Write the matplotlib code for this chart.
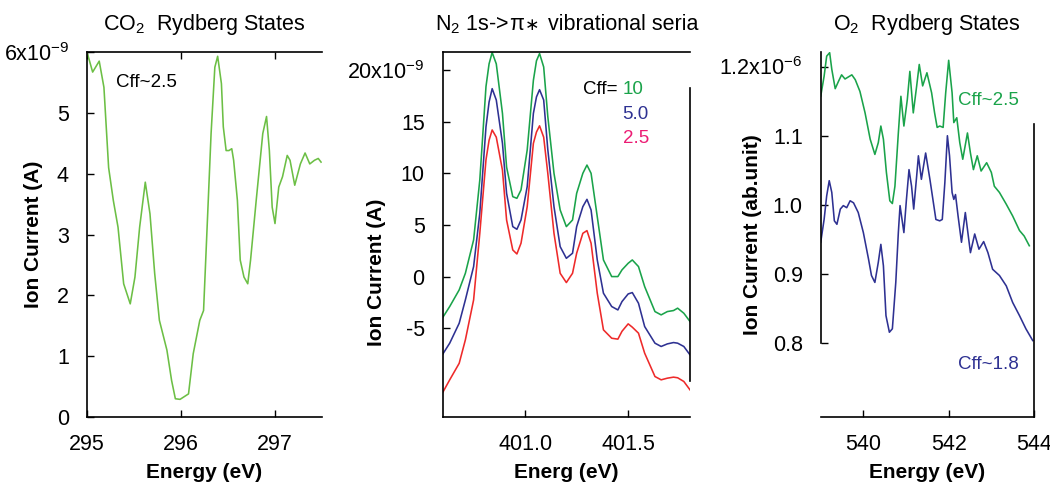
import matplotlib
matplotlib.use("Agg")
import matplotlib.pyplot as plt

plt.rcParams['font.family'] = ['Liberation Sans', 'DejaVu Sans']
plt.rcParams['mathtext.fontset'] = 'custom'
plt.rcParams['mathtext.rm'] = 'Liberation Sans'
plt.rcParams['mathtext.it'] = 'Liberation Sans:italic'
plt.rcParams['mathtext.bf'] = 'Liberation Sans:bold'

# ---------------- data ----------------
co2_energy = [295.0, 295.06, 295.13, 295.18, 295.23, 295.28, 295.33, 295.39, 295.46, 295.51,
              295.56, 295.62, 295.67, 295.72, 295.77, 295.85, 295.90, 295.94, 295.99, 296.04,
              296.08, 296.13, 296.20, 296.24, 296.29, 296.32, 296.36, 296.39, 296.43, 296.45,
              296.48, 296.51, 296.54, 296.56, 296.60, 296.63, 296.67, 296.71, 296.74, 296.80,
              296.87, 296.91, 296.94, 296.97, 297.0, 297.04, 297.08, 297.13, 297.16, 297.21,
              297.27, 297.32, 297.37, 297.42, 297.46, 297.49]
co2_current = [6.0, 5.67, 5.85, 5.42, 4.1, 3.56, 3.12, 2.19, 1.86, 2.3,
               3.12, 3.86, 3.34, 2.36, 1.59, 1.10, 0.60, 0.30, 0.29, 0.34,
               0.38, 1.04, 1.59, 1.75, 3.56, 4.66, 5.75, 5.93, 5.48, 4.77,
               4.38, 4.38, 4.41, 4.22, 3.56, 2.58, 2.30, 2.19, 2.58, 3.56,
               4.66, 4.94, 4.38, 3.45, 3.18, 3.78, 3.95, 4.30, 4.22, 3.81,
               4.16, 4.34, 4.16, 4.22, 4.25, 4.19]

n2_energy = [400.598, 400.634, 400.68, 400.71, 400.75, 400.78, 400.81, 400.825, 400.84, 400.86,
             400.89, 400.91, 400.94, 400.96, 400.98, 401.01, 401.04, 401.055, 401.07, 401.09,
             401.11, 401.14, 401.17, 401.20, 401.23, 401.25, 401.28, 401.30, 401.32, 401.35,
             401.38, 401.42, 401.45, 401.47, 401.50, 401.52, 401.55, 401.58, 401.63, 401.66,
             401.69, 401.72, 401.74, 401.77, 401.80]
n2_cff10 = [-4.03, -2.9, -1.29, 0.32, 3.55, 9.35, 18.4, 20.6, 21.7, 20.6,
            15.8, 10.6, 7.74, 7.58, 8.39, 12.26, 19.0, 20.9, 21.6, 20.3,
            15.5, 10.0, 6.45, 4.84, 5.48, 8.06, 10.0, 10.8, 10.0, 5.8,
            1.61, 0.0, 0.0, 0.65, 1.29, 1.61, 0.97, -0.97, -3.39, -3.71,
            -3.39, -3.29, -3.06, -3.55, -4.35]
n2_cff5 = [-7.58, -6.45, -4.52, -2.26, 0.97, 6.13, 14.5, 16.9, 18.2, 17.1,
           12.9, 8.06, 4.84, 4.58, 5.48, 8.71, 15.8, 17.4, 18.1, 17.1,
           12.3, 6.77, 2.9, 1.77, 2.26, 4.84, 6.77, 7.48, 6.45, 1.61,
           -1.61, -2.9, -3.23, -2.42, -1.68, -1.55, -2.58, -4.84, -6.45, -6.77,
           -6.52, -6.39, -6.45, -6.77, -7.58]
n2_cff25 = [-11.3, -10.0, -8.4, -6.13, -2.26, 4.19, 11.3, 13.2, 14.2, 13.5,
            10.3, 5.48, 2.58, 2.19, 3.23, 6.77, 12.9, 14.0, 14.6, 13.5,
            10.0, 4.19, 0.32, -0.58, 0.32, 2.26, 4.19, 4.45, 3.23, -1.61,
            -5.16, -5.97, -6.06, -5.3, -4.58, -4.9, -5.48, -7.42, -9.68, -10.0,
            -9.84, -9.74, -9.8, -10.16, -10.97]

o2g_energy = [539.0, 539.08, 539.14, 539.21, 539.26, 539.34, 539.42, 539.49, 539.57, 539.65,
              539.73, 539.81, 539.92, 540.04, 540.16, 540.27, 540.35, 540.41, 540.47, 540.54,
              540.62, 540.68, 540.74, 540.82, 540.88, 540.95, 541.03, 541.09, 541.17, 541.25,
              541.31, 541.39, 541.49, 541.60, 541.67, 541.73, 541.79, 541.87, 541.93, 542.0,
              542.08, 542.12, 542.19, 542.26, 542.33, 542.44, 542.51, 542.58, 542.67, 542.76,
              542.89, 543.0, 543.07, 543.19, 543.35, 543.50, 543.66, 543.77, 543.89]
o2g_current = [1.157, 1.186, 1.215, 1.220, 1.196, 1.168, 1.179, 1.188, 1.182, 1.185,
               1.188, 1.181, 1.164, 1.133, 1.095, 1.073, 1.090, 1.114, 1.095, 1.047,
               1.006, 1.002, 1.027, 1.104, 1.157, 1.114, 1.152, 1.193, 1.133, 1.172,
               1.203, 1.172, 1.191, 1.162, 1.133, 1.112, 1.114, 1.112, 1.162, 1.209,
               1.162, 1.119, 1.126, 1.090, 1.066, 1.104, 1.075, 1.051, 1.071, 1.049,
               1.061, 1.047, 1.027, 1.018, 1.001, 0.984, 0.963, 0.955, 0.941]

o2b_energy = [539.0, 539.08, 539.14, 539.20, 539.26, 539.32, 539.38, 539.46, 539.53, 539.61,
              539.69, 539.77, 539.88, 540.0, 540.12, 540.19, 540.27, 540.35, 540.41, 540.47,
              540.53, 540.61, 540.68, 540.76, 540.82, 540.86, 540.95, 541.01, 541.07, 541.13,
              541.18, 541.25, 541.29, 541.36, 541.46, 541.56, 541.63, 541.70, 541.79, 541.85,
              541.91, 541.97, 542.02, 542.08, 542.12, 542.16, 542.22, 542.30, 542.39, 542.45,
              542.51, 542.61, 542.71, 542.82, 542.92, 543.03, 543.19, 543.35, 543.50, 543.66,
              543.81, 543.97]
o2b_current = [0.946, 0.979, 1.013, 1.035, 1.018, 0.977, 0.972, 0.994, 0.999, 0.996,
               1.006, 1.003, 0.989, 0.960, 0.922, 0.898, 0.888, 0.917, 0.943, 0.912,
               0.840, 0.816, 0.821, 0.888, 0.960, 0.999, 0.960, 1.008, 1.051, 1.027,
               0.994, 1.042, 1.071, 1.037, 1.075, 1.037, 1.008, 0.979, 0.977, 0.979,
               1.032, 1.100, 1.071, 1.018, 1.008, 1.015, 0.984, 0.946, 0.989, 0.960,
               0.931, 0.958, 0.936, 0.947, 0.931, 0.907, 0.898, 0.883, 0.859, 0.840,
               0.821, 0.804]

co2_xticks = [295, 296, 297]
co2_xticklabels = ['295', '296', '297']
co2_yticks = [0, 1, 2, 3, 4, 5, 6]
co2_yticklabels = ['0', '1', '2', '3', '4', '5', '6x10$^{-9}$']
n2_xticks = [401.0, 401.5]
n2_xticklabels = ['401.0', '401.5']
n2_yticks = [-5, 0, 5, 10, 15, 20]
n2_yticklabels = ['-5', '0', '5', '10', '15', '20x10$^{-9}$']
o2_xticks = [540, 542, 544]
o2_xticklabels = ['540', '542', '544']
o2_yticks = [0.8, 0.9, 1.0, 1.1, 1.2]
o2_yticklabels = ['0.8', '0.9', '1.0', '1.1', '1.2x10$^{-6}$']

# ---------------- styling ----------------
C_LIGHTGREEN = '#6cbf45'
C_GREEN = '#1aa34a'
C_BLUE = '#2e3192'
C_RED = '#ee2a2a'
C_PINK = '#ec1c74'
TICK_FS = 15.5
LABEL_FS = 15
TITLE_FS = 15.5
NOTE_FS = 13.5
LW = 1.15

W, H = 1050, 486
fig = plt.figure(figsize=(W / 100, H / 100), dpi=100)


def px_axes(l, r, t, b):
    return fig.add_axes([l / W, 1 - b / H, (r - l) / W, (b - t) / H])


def style(ax):
    ax.tick_params(direction='in', length=5, width=1.0, labelsize=TICK_FS, colors='black')
    ax.tick_params(axis='x', pad=12)
    ax.tick_params(axis='y', pad=13)
    for s in ax.spines.values():
        s.set_linewidth(1.2)


TITLE_Y = 1 - 30 / H

# ---- Panel 1: CO2 ----
ax1 = px_axes(87, 322, 52, 417)
ax1.plot(co2_energy, co2_current, color=C_LIGHTGREEN, lw=LW)
ax1.set_xlim(295, 297.5)
ax1.set_ylim(0, 6)
ax1.set_xticks(co2_xticks)
ax1.set_xticklabels(co2_xticklabels)
ax1.set_yticks(co2_yticks)
ax1.set_yticklabels(co2_yticklabels)
style(ax1)
ax1.spines['right'].set_visible(False)
ax1.tick_params(axis='x', top=True)
ax1.set_xlabel('Energy (eV)', fontsize=LABEL_FS, fontweight='bold')
ax1.set_ylabel('Ion Current (A)', fontsize=LABEL_FS, fontweight='bold')
ax1.xaxis.set_label_coords(0.5, -0.153)
ax1.xaxis.label.set_va('center')
ax1.yaxis.set_label_coords(-0.228, 0.5)
ax1.yaxis.label.set_va('center')
ax1.text(295.305, 5.43, 'Cff~2.5', fontsize=NOTE_FS, va='baseline', ha='left')
fig.text(204.5 / W, TITLE_Y, 'CO$_2$  Rydberg States', fontsize=TITLE_FS,
         ha='center', va='baseline')

# ---- Panel 2: N2 ----
ax2 = px_axes(442.7, 690, 52, 417)
ax2.plot(n2_energy, n2_cff10, color=C_GREEN, lw=LW)
ax2.plot(n2_energy, n2_cff5, color=C_BLUE, lw=LW)
ax2.plot(n2_energy, n2_cff25, color=C_RED, lw=LW)
ax2.set_xlim(400.6, 401.8)
ax2.set_ylim(-13.6, 21.75)
ax2.set_xticks(n2_xticks)
ax2.set_xticklabels(n2_xticklabels)
ax2.set_yticks(n2_yticks)
ax2.set_yticklabels(n2_yticklabels)
style(ax2)
ax2.spines['right'].set_bounds(-10.1, 18.3)
ax2.set_xlabel('Energ (eV)', fontsize=LABEL_FS, fontweight='bold')
ax2.set_ylabel('Ion Current (A)', fontsize=LABEL_FS, fontweight='bold')
ax2.xaxis.set_label_coords(0.5, -0.153)
ax2.xaxis.label.set_va('center')
ax2.yaxis.set_label_coords(-0.266, 0.397)
ax2.yaxis.label.set_va('center')
ax2.text(401.279, 17.69, 'Cff=', fontsize=NOTE_FS, va='baseline', ha='left')
ax2.text(401.473, 17.69, '10', fontsize=NOTE_FS, va='baseline', ha='left', color=C_GREEN)
ax2.text(401.473, 15.27, '5.0', fontsize=NOTE_FS, va='baseline', ha='left', color=C_BLUE)
ax2.text(401.473, 12.94, '2.5', fontsize=NOTE_FS, va='baseline', ha='left', color=C_PINK)
t_a = fig.text(435 / W, TITLE_Y, 'N$_2$ 1s->', fontsize=TITLE_FS, ha='left', va='baseline')

# ---- Panel 3: O2 ----
ax3 = px_axes(820.7, 1034, 52, 417)
ax3.plot(o2g_energy, o2g_current, color=C_GREEN, lw=LW)
ax3.plot(o2b_energy, o2b_current, color=C_BLUE, lw=LW)
ax3.set_xlim(539.0, 544.0)
ax3.set_ylim(0.6935, 1.221)
ax3.set_xticks(o2_xticks)
ax3.set_xticklabels(o2_xticklabels)
ax3.set_yticks(o2_yticks)
ax3.set_yticklabels(o2_yticklabels)
style(ax3)
ax3.spines['top'].set_visible(False)
ax3.spines['left'].set_bounds(0.8, 1.221)
ax3.spines['right'].set_bounds(0.6935, 1.117)
ax3.set_xlabel('Energy (eV)', fontsize=LABEL_FS, fontweight='bold')
ax3.set_ylabel('Ion Current (ab.unit)', fontsize=LABEL_FS, fontweight='bold')
ax3.xaxis.set_label_coords(0.5, -0.153)
ax3.xaxis.label.set_va('center')
ax3.yaxis.set_label_coords(-0.322, 0.5)
ax3.yaxis.label.set_va('center')
ax3.text(542.21, 1.1447, 'Cff~2.5', fontsize=NOTE_FS, va='baseline', ha='left', color=C_GREEN)
ax3.text(542.21, 0.763, 'Cff~1.8', fontsize=NOTE_FS, va='baseline', ha='left', color=C_BLUE)
fig.text(927 / W, TITLE_Y, 'O$_2$  Rydberg States', fontsize=TITLE_FS,
         ha='center', va='baseline')

# remaining pieces of the N2 title, chained after the measured first part
fig.canvas.draw()
x_next = t_a.get_window_extent().x1 + 0.5
t_b = fig.text(x_next / W, TITLE_Y, 'π', fontsize=TITLE_FS, ha='left', va='baseline')
fig.canvas.draw()
x_next = t_b.get_window_extent().x1 + 0.5
t_c = fig.text(x_next / W, TITLE_Y, '∗', fontsize=TITLE_FS - 3, ha='left', va='baseline',
               family=['DejaVu Sans'])
fig.canvas.draw()
x_next = max(548, t_c.get_window_extent().x1 + 8)
fig.text(x_next / W, TITLE_Y, 'vibrational seria', fontsize=TITLE_FS, ha='left', va='baseline')

fig.savefig('out.png', dpi=100)
